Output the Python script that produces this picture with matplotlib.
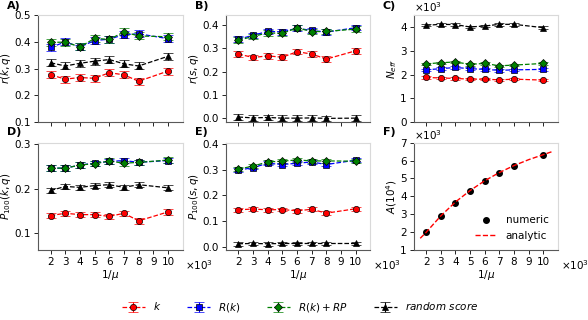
import matplotlib
matplotlib.use('Agg')
import matplotlib.pyplot as plt

plt.rcParams['font.family'] = ['DejaVu Sans']
plt.rcParams['font.size'] = 7.5

# 1/mu in units of 10^3
mu = [2, 3, 4, 5, 6, 7, 8, 10]

# A) r(k,q)
A_k = [0.277, 0.261, 0.267, 0.264, 0.285, 0.277, 0.253, 0.291]
A_R = [0.379, 0.400, 0.381, 0.405, 0.410, 0.427, 0.430, 0.412]
A_RP = [0.398, 0.399, 0.381, 0.413, 0.409, 0.437, 0.422, 0.419]
A_rand = [0.322, 0.310, 0.320, 0.328, 0.334, 0.318, 0.310, 0.346]
A_err = 0.013

# B) r(s,q)
B_k = [0.276, 0.261, 0.268, 0.262, 0.286, 0.276, 0.254, 0.290]
B_R = [0.340, 0.357, 0.374, 0.372, 0.388, 0.378, 0.371, 0.390]
B_RP = [0.336, 0.352, 0.368, 0.365, 0.390, 0.373, 0.374, 0.384]
B_rand = [0.003, -0.001, 0.001, -0.002, -0.002, -0.001, -0.003, -0.002]
B_err = 0.012

# C) N_eff in units of 10^3
C_k = [1.88, 1.86, 1.84, 1.81, 1.81, 1.78, 1.81, 1.77]
C_R = [2.20, 2.25, 2.30, 2.25, 2.22, 2.18, 2.20, 2.22]
C_RP = [2.45, 2.50, 2.53, 2.43, 2.47, 2.37, 2.40, 2.47]
C_rand = [4.07, 4.11, 4.10, 4.00, 4.04, 4.11, 4.11, 3.97]
C_err = 0.05

# D) P100(k,q)
D_k = [0.140, 0.145, 0.142, 0.142, 0.138, 0.145, 0.128, 0.148]
D_R = [0.246, 0.246, 0.253, 0.257, 0.261, 0.263, 0.259, 0.263]
D_RP = [0.246, 0.246, 0.253, 0.256, 0.262, 0.257, 0.259, 0.264]
D_rand = [0.196, 0.205, 0.203, 0.207, 0.209, 0.203, 0.209, 0.202]
D_err = 0.006

# E) P100(s,q)
E_k = [0.144, 0.147, 0.144, 0.145, 0.140, 0.146, 0.131, 0.148]
E_R = [0.298, 0.308, 0.325, 0.320, 0.325, 0.330, 0.320, 0.337]
E_RP = [0.302, 0.314, 0.330, 0.333, 0.338, 0.334, 0.334, 0.333]
E_rand = [0.012, 0.013, 0.012, 0.013, 0.013, 0.013, 0.013, 0.013]
E_err = 0.007

# F) A in units of 10^3
F_num = [1.98, 2.88, 3.65, 4.30, 4.87, 5.33, 5.70, 6.30]
F_x_an = [1.6, 2, 3, 4, 5, 6, 7, 8, 9, 10, 10.6]
F_an = [1.65, 1.98, 2.90, 3.68, 4.32, 4.87, 5.33, 5.72, 6.05, 6.33, 6.50]

labels = ['$k$', '$R(k)$', '$R(k)+RP$', '$random\\ score$']
colors = ['r', 'b', 'g', 'k']
markers = ['o', 's', 'D', '^']
msizes = [4.5, 4.5, 4, 4.5]

fig, axes = plt.subplots(2, 3, figsize=(5.88, 3.2), dpi=100)
fig.subplots_adjust(left=0.065, right=0.949, top=0.953, bottom=0.219,
                    wspace=0.30, hspace=0.19)

panels = [
    (axes[0, 0], [A_k, A_R, A_RP, A_rand], A_err, '$r(k,q)$', (0.1, 0.5), [0.1, 0.2, 0.3, 0.4, 0.5]),
    (axes[0, 1], [B_k, B_R, B_RP, B_rand], B_err, '$r(s,q)$', (-0.02, 0.445), [0.0, 0.1, 0.2, 0.3, 0.4]),
    (axes[0, 2], [C_k, C_R, C_RP, C_rand], C_err, '$N_{eff}$', (0, 4.5), [0, 1, 2, 3, 4]),
    (axes[1, 0], [D_k, D_R, D_RP, D_rand], D_err, '$P_{100}(k,q)$', (0.063, 0.303), [0.1, 0.2, 0.3]),
    (axes[1, 1], [E_k, E_R, E_RP, E_rand], E_err, '$P_{100}(s,q)$', (-0.012, 0.405), [0.0, 0.1, 0.2, 0.3, 0.4]),
]

handles = []
for ax, series, err, ylab, ylim, yt in panels:
    hs = []
    for i, ys in enumerate(series):
        h = ax.errorbar(mu, ys, yerr=err, color=colors[i], ls='--', lw=0.9,
                        marker=markers[i], ms=msizes[i], mfc=colors[i], mec='k', mew=0.5,
                        capsize=3.5, elinewidth=0.8, capthick=0.8, label=labels[i])
        hs.append(h)
    handles = hs
    ax.set_ylabel(ylab, labelpad=1)
    ax.set_ylim(*ylim)
    ax.set_yticks(yt)

axF = axes[1, 2]
axF.plot(mu, F_num, 'o', color='k', ms=4, label='numeric')
axF.plot(F_x_an, F_an, '--', color='r', lw=1, label='analytic')
axF.set_ylim(1, 7)
axF.set_yticks([1, 2, 3, 4, 5, 6, 7])
axF.set_ylabel('$A(10^4)$', labelpad=1)
axF.legend(loc='lower right', frameon=False, fontsize=7.5, handlelength=2.2)

tags = ['A)', 'B)', 'C)', 'D)', 'E)', 'F)']
for n, ax in enumerate(axes.flat):
    ax.set_xlim(1.15, 11.0)
    ax.set_xticks([2, 3, 4, 5, 6, 7, 8, 9, 10])
    ax.tick_params(length=3, width=0.6, pad=2, labelsize=7.5)
    for s in ['left', 'bottom']:
        ax.spines[s].set_color('0.35')
    for s in ['top', 'right']:
        ax.spines[s].set_color('0.85')
    ty = 1.035 if n < 3 else 1.055
    ax.text(-0.215, ty, tags[n], transform=ax.transAxes, fontsize=8,
            fontweight='bold', ha='left', va='bottom')

for ax in axes[0]:
    ax.set_xticklabels([])
for ax in axes[1]:
    ax.set_xlabel('$1/\\mu$', labelpad=1)
    ax.text(1.02, -0.08, '$\\times10^3$', transform=ax.transAxes, ha='left', va='top')

axes[0, 2].text(0.0, 1.01, '$\\times10^3$', transform=axes[0, 2].transAxes, ha='left', va='bottom')
axF.text(0.0, 1.01, '$\\times10^3$', transform=axF.transAxes, ha='left', va='bottom')

fig.legend(handles, labels, loc='center', bbox_to_anchor=(0.51, 0.04), ncol=4,
           frameon=False, fontsize=7.5, handlelength=2.2, columnspacing=2.5)

plt.savefig('out.png', dpi=100)
